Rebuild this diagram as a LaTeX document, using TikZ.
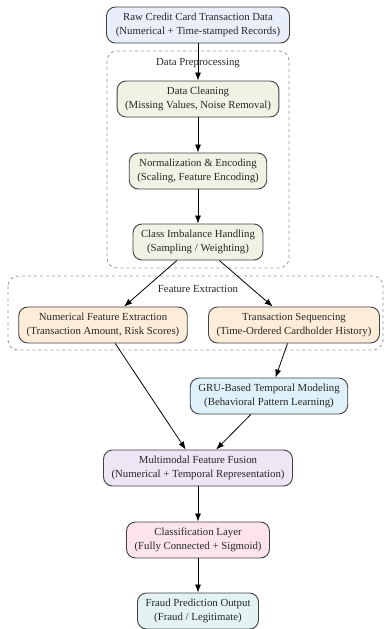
\documentclass[tikz,border=0pt]{standalone}
\usepackage{fontspec}
\setmainfont{Liberation Serif}
\usetikzlibrary{shapes, arrows.meta, positioning}
\definecolor{rawfill}{HTML}{E8EEFA}
\definecolor{prepfill}{HTML}{EFF3E4}
\definecolor{featfill}{HTML}{FDEDD8}
\definecolor{grufill}{HTML}{DFF1FA}
\definecolor{fusefill}{HTML}{ECE6F5}
\definecolor{clsfill}{HTML}{FCE4EA}
\definecolor{outfill}{HTML}{E2F3F2}
\tikzstyle{block}=[draw=black!75, line width=0.9pt, rectangle, rounded corners=9pt,
  align=center, minimum height=36pt, inner xsep=8pt, inner ysep=3pt]
\tikzstyle{cluster}=[draw=black!40, dashed, line width=0.8pt, rounded corners=10pt]
\tikzstyle{every node}=[font=\fontsize{10.8}{14}\selectfont, text=black!85]

\begin{document}
\begin{tikzpicture}[x=1pt, y=-1pt, >={Latex[length=8pt,width=6pt]}, node distance=72pt]
    \useasboundingbox (0,0) rectangle (384,629);
    % clusters
    \draw[cluster] (107,51) rectangle (289,268);
    \draw[cluster] (8,276) rectangle (383,350);
    \node (preplabel) at (198,63) {Data Preprocessing};
    \node (featlabel) at (198,289) {Feature Extraction};
    % main column
    \node[block, fill=rawfill, minimum width=183pt] (raw) at (198,25)
      {Raw Credit Card Transaction Data\\(Numerical + Time-stamped Records)};
    \node[block, fill=prepfill, below of=raw, node distance=74pt] (clean)
      {Data Cleaning\\(Missing Values, Noise Removal)};
    \node[block, fill=prepfill, below of=clean] (norm)
      {Normalization \& Encoding\\(Scaling, Feature Encoding)};
    \node[block, fill=prepfill, below of=norm, node distance=71pt] (imbal)
      {Class Imbalance Handling\\(Sampling / Weighting)};
    % feature branches
    \node[block, fill=featfill] (numfeat) at (103,325)
      {Numerical Feature Extraction\\(Transaction Amount, Risk Scores)};
    \node[block, fill=featfill] (seq) at (294,325)
      {Transaction Sequencing\\(Time-Ordered Cardholder History)};
    \node[block, fill=grufill] (gru) at (269,396)
      {GRU-Based Temporal Modeling\\(Behavioral Pattern Learning)};
    \node[block, fill=fusefill] (fusion) at (198,468)
      {Multimodal Feature Fusion\\(Numerical + Temporal Representation)};
    \node[block, fill=clsfill, below of=fusion] (classif)
      {Classification Layer\\(Fully Connected + Sigmoid)};
    \node[block, fill=outfill, below of=classif, node distance=71pt] (output)
      {Fraud Prediction Output\\(Fraud / Legitimate)};
    % connectors
    \draw[->, line width=0.8pt] (raw) -- (clean);
    \draw[->, line width=0.8pt] (clean) -- (norm);
    \draw[->, line width=0.8pt] (norm) -- (imbal);
    \draw[->, line width=0.8pt] (imbal) -- (numfeat);
    \draw[->, line width=0.8pt] (imbal) -- (seq);
    \draw[->, line width=0.8pt] (seq) -- (gru);
    \draw[->, line width=0.8pt] (numfeat) -- (fusion);
    \draw[->, line width=0.8pt] (gru) -- (fusion);
    \draw[->, line width=0.8pt] (fusion) -- (classif);
    \draw[->, line width=0.8pt] (classif) -- (output);
\end{tikzpicture}
\end{document}
